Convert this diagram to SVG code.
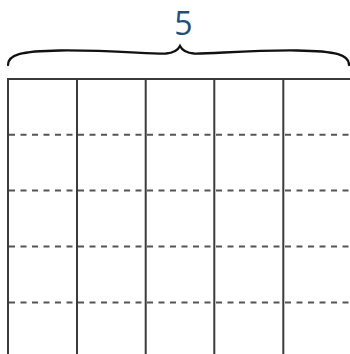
<svg xmlns="http://www.w3.org/2000/svg" width="350" height="354" viewBox="0 0 350 354">
<style>
.solid{stroke:#3a3a3a;stroke-width:2;fill:none}
.dash{stroke:#555;stroke-width:2;stroke-dasharray:6 5.5;fill:none}
.brace{stroke:#111;stroke-width:2.3;fill:none;stroke-linecap:round}
.lbl{font-family:"Open Sans","Noto Sans",sans-serif;font-size:32px;fill:#1f4e79;text-anchor:middle}
</style>
<rect width="350" height="354" fill="#fff"/>
<g id="label"><text class="lbl" x="183.5" y="35">5</text></g>
<g id="brace"><path class="brace" d="M8,65 C8,55 20,51 60,50.5 C110,50 150,54 166,53.5 C174,53 178,50 180,46 C182,50 186,53 194,53.5 C210,54 250,50 297,50.5 C337,51 349,55 349,65"/></g>
<g id="grid">
<line class="solid" x1="7" y1="79" x2="350" y2="79"/>
<line class="solid" x1="8" y1="78" x2="8" y2="354"/>
<line class="solid" x1="77" y1="79" x2="77" y2="354"/>
<line class="solid" x1="145.7" y1="79" x2="145.7" y2="354"/>
<line class="solid" x1="214.3" y1="79" x2="214.3" y2="354"/>
<line class="solid" x1="283.3" y1="79" x2="283.3" y2="354"/>
<line class="dash" x1="9" y1="134.7" x2="350" y2="134.7"/>
<line class="dash" x1="9" y1="190.5" x2="350" y2="190.5"/>
<line class="dash" x1="9" y1="246.5" x2="350" y2="246.5"/>
<line class="dash" x1="9" y1="302.5" x2="350" y2="302.5"/>
</g>
</svg>
